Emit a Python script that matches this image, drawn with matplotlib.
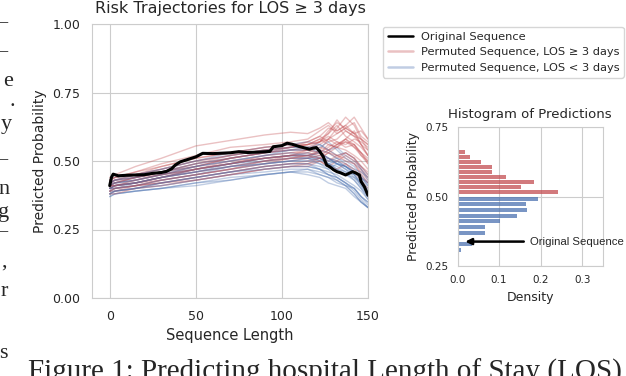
import numpy as np
import matplotlib
matplotlib.use("Agg")
import matplotlib.pyplot as plt
import seaborn as sns

sns.set_style("whitegrid")
plt.rcParams['font.family'] = ['DejaVu Sans']

# ---- data ----
orig_x = [0, 1, 2, 5, 10, 15, 20, 25, 30, 33, 36, 38, 41, 45, 50, 54, 60, 70, 75, 80,
          88, 93, 95, 100, 103, 106, 110, 113, 116, 118, 120, 122, 124, 126, 128, 130,
          132, 134, 137, 139, 141, 143, 145, 146, 148, 150]
orig_y = [0.41, 0.44, 0.452, 0.446, 0.448, 0.449, 0.45, 0.455, 0.458, 0.462, 0.472,
          0.485, 0.497, 0.505, 0.515, 0.528, 0.527, 0.530, 0.534, 0.531, 0.533, 0.535,
          0.552, 0.556, 0.565, 0.561, 0.553, 0.548, 0.543, 0.547, 0.549, 0.535, 0.516,
          0.485, 0.478, 0.468, 0.461, 0.457, 0.449, 0.455, 0.461, 0.456, 0.449, 0.425,
          0.405, 0.375]

perm_x = [0, 3, 15, 30, 50, 70, 90, 105, 115, 122, 127, 132, 137, 142, 146, 150]

perm_long = [
    [0.44, 0.45, 0.48, 0.51, 0.555, 0.575, 0.595, 0.605, 0.60, 0.62, 0.64, 0.61, 0.63, 0.60, 0.58, 0.56],
    [0.43, 0.44, 0.46, 0.49, 0.52, 0.55, 0.56, 0.57, 0.58, 0.61, 0.63, 0.60, 0.62, 0.64, 0.59, 0.57],
    [0.42, 0.43, 0.45, 0.48, 0.51, 0.53, 0.55, 0.56, 0.57, 0.59, 0.57, 0.58, 0.61, 0.59, 0.56, 0.54],
    [0.41, 0.42, 0.44, 0.46, 0.49, 0.52, 0.54, 0.55, 0.56, 0.57, 0.60, 0.63, 0.59, 0.57, 0.55, 0.52],
    [0.42, 0.43, 0.44, 0.46, 0.48, 0.51, 0.53, 0.54, 0.54, 0.56, 0.58, 0.56, 0.57, 0.55, 0.53, 0.50],
    [0.40, 0.41, 0.42, 0.44, 0.47, 0.49, 0.52, 0.53, 0.53, 0.55, 0.54, 0.56, 0.58, 0.61, 0.56, 0.52],
    [0.41, 0.41, 0.42, 0.44, 0.46, 0.48, 0.50, 0.52, 0.53, 0.52, 0.54, 0.52, 0.51, 0.49, 0.46, 0.43],
    [0.40, 0.41, 0.42, 0.43, 0.45, 0.47, 0.49, 0.50, 0.51, 0.54, 0.58, 0.62, 0.66, 0.63, 0.58, 0.54],
    [0.43, 0.44, 0.45, 0.47, 0.50, 0.52, 0.54, 0.55, 0.56, 0.58, 0.56, 0.55, 0.57, 0.56, 0.52, 0.50],
    [0.39, 0.40, 0.41, 0.42, 0.44, 0.46, 0.48, 0.49, 0.49, 0.50, 0.48, 0.50, 0.49, 0.47, 0.44, 0.42],
    [0.42, 0.42, 0.44, 0.45, 0.48, 0.50, 0.52, 0.53, 0.54, 0.57, 0.61, 0.64, 0.62, 0.60, 0.61, 0.58],
    [0.38, 0.39, 0.40, 0.42, 0.43, 0.45, 0.47, 0.48, 0.49, 0.51, 0.50, 0.52, 0.53, 0.51, 0.48, 0.45],
    [0.41, 0.42, 0.43, 0.45, 0.47, 0.50, 0.51, 0.52, 0.52, 0.53, 0.55, 0.57, 0.55, 0.56, 0.53, 0.51],
    [0.40, 0.40, 0.41, 0.43, 0.45, 0.47, 0.49, 0.51, 0.52, 0.54, 0.53, 0.51, 0.53, 0.51, 0.48, 0.46],
    [0.42, 0.43, 0.45, 0.47, 0.50, 0.52, 0.54, 0.55, 0.57, 0.59, 0.62, 0.61, 0.63, 0.66, 0.62, 0.58],
    [0.38, 0.38, 0.40, 0.41, 0.43, 0.45, 0.47, 0.48, 0.48, 0.50, 0.48, 0.47, 0.49, 0.46, 0.43, 0.40],
    [0.41, 0.41, 0.42, 0.44, 0.46, 0.48, 0.50, 0.51, 0.51, 0.52, 0.54, 0.56, 0.58, 0.55, 0.52, 0.49],
    [0.43, 0.44, 0.46, 0.48, 0.51, 0.53, 0.55, 0.56, 0.56, 0.57, 0.59, 0.57, 0.56, 0.58, 0.57, 0.55],
    [0.39, 0.39, 0.41, 0.42, 0.44, 0.46, 0.48, 0.49, 0.50, 0.51, 0.53, 0.52, 0.50, 0.49, 0.45, 0.42],
    [0.41, 0.42, 0.44, 0.46, 0.48, 0.51, 0.53, 0.55, 0.56, 0.58, 0.60, 0.65, 0.61, 0.59, 0.58, 0.56],
    [0.39, 0.40, 0.41, 0.43, 0.45, 0.47, 0.50, 0.51, 0.52, 0.53, 0.51, 0.50, 0.52, 0.50, 0.47, 0.44],
    [0.42, 0.43, 0.44, 0.46, 0.49, 0.51, 0.53, 0.54, 0.55, 0.57, 0.58, 0.60, 0.62, 0.60, 0.56, 0.52],
    [0.40, 0.41, 0.42, 0.44, 0.47, 0.49, 0.51, 0.52, 0.54, 0.53, 0.56, 0.55, 0.58, 0.56, 0.53, 0.49],
    [0.41, 0.41, 0.43, 0.45, 0.47, 0.49, 0.51, 0.52, 0.52, 0.51, 0.53, 0.55, 0.54, 0.52, 0.50, 0.47],
]

perm_short = [
    [0.40, 0.41, 0.43, 0.45, 0.48, 0.51, 0.53, 0.54, 0.54, 0.53, 0.51, 0.49, 0.48, 0.45, 0.41, 0.37],
    [0.38, 0.39, 0.40, 0.41, 0.43, 0.45, 0.47, 0.48, 0.48, 0.47, 0.45, 0.44, 0.42, 0.39, 0.36, 0.33],
    [0.41, 0.42, 0.43, 0.45, 0.47, 0.49, 0.51, 0.52, 0.52, 0.51, 0.50, 0.49, 0.47, 0.45, 0.42, 0.39],
    [0.37, 0.38, 0.39, 0.40, 0.41, 0.43, 0.45, 0.46, 0.46, 0.45, 0.44, 0.42, 0.41, 0.38, 0.35, 0.33],
    [0.43, 0.44, 0.45, 0.47, 0.50, 0.53, 0.55, 0.56, 0.57, 0.56, 0.54, 0.55, 0.52, 0.50, 0.48, 0.45],
    [0.39, 0.40, 0.41, 0.42, 0.44, 0.46, 0.48, 0.49, 0.49, 0.47, 0.45, 0.44, 0.42, 0.40, 0.37, 0.35],
    [0.39, 0.40, 0.42, 0.44, 0.47, 0.49, 0.51, 0.52, 0.51, 0.50, 0.49, 0.48, 0.46, 0.45, 0.42, 0.38],
    [0.42, 0.43, 0.44, 0.46, 0.49, 0.51, 0.53, 0.54, 0.54, 0.55, 0.57, 0.54, 0.51, 0.49, 0.47, 0.44],
    [0.37, 0.38, 0.39, 0.40, 0.42, 0.44, 0.45, 0.46, 0.47, 0.45, 0.44, 0.43, 0.41, 0.38, 0.35, 0.33],
    [0.40, 0.41, 0.42, 0.44, 0.46, 0.49, 0.50, 0.51, 0.51, 0.51, 0.49, 0.50, 0.48, 0.46, 0.44, 0.41],
    [0.42, 0.42, 0.44, 0.46, 0.49, 0.51, 0.53, 0.55, 0.55, 0.56, 0.54, 0.52, 0.53, 0.51, 0.47, 0.43],
    [0.38, 0.39, 0.40, 0.41, 0.43, 0.45, 0.46, 0.47, 0.47, 0.46, 0.45, 0.43, 0.41, 0.40, 0.37, 0.35],
    [0.41, 0.41, 0.42, 0.44, 0.47, 0.49, 0.51, 0.52, 0.53, 0.51, 0.49, 0.47, 0.46, 0.43, 0.40, 0.37],
    [0.40, 0.40, 0.41, 0.43, 0.45, 0.48, 0.49, 0.50, 0.51, 0.52, 0.50, 0.51, 0.49, 0.47, 0.46, 0.44],
    [0.38, 0.38, 0.39, 0.40, 0.42, 0.43, 0.45, 0.46, 0.45, 0.44, 0.42, 0.41, 0.40, 0.37, 0.35, 0.33],
    [0.41, 0.42, 0.43, 0.45, 0.47, 0.49, 0.51, 0.52, 0.52, 0.50, 0.51, 0.49, 0.48, 0.46, 0.43, 0.40],
    [0.40, 0.40, 0.41, 0.43, 0.45, 0.47, 0.49, 0.50, 0.50, 0.51, 0.49, 0.47, 0.45, 0.44, 0.41, 0.38],
    [0.42, 0.43, 0.45, 0.47, 0.50, 0.52, 0.54, 0.55, 0.55, 0.54, 0.53, 0.51, 0.50, 0.48, 0.45, 0.42],
    [0.39, 0.39, 0.40, 0.42, 0.44, 0.46, 0.47, 0.48, 0.48, 0.47, 0.46, 0.45, 0.43, 0.41, 0.39, 0.36],
    [0.40, 0.41, 0.42, 0.44, 0.46, 0.48, 0.50, 0.51, 0.51, 0.49, 0.47, 0.49, 0.47, 0.44, 0.42, 0.39],
    [0.41, 0.42, 0.43, 0.45, 0.48, 0.50, 0.52, 0.53, 0.52, 0.53, 0.51, 0.50, 0.48, 0.46, 0.44, 0.42],
    [0.38, 0.39, 0.40, 0.42, 0.44, 0.46, 0.48, 0.49, 0.49, 0.48, 0.47, 0.44, 0.42, 0.40, 0.37, 0.34],
    [0.40, 0.41, 0.42, 0.44, 0.46, 0.48, 0.49, 0.50, 0.50, 0.49, 0.48, 0.46, 0.45, 0.43, 0.40, 0.36],
    [0.42, 0.43, 0.44, 0.46, 0.48, 0.50, 0.52, 0.54, 0.55, 0.53, 0.51, 0.49, 0.48, 0.46, 0.44, 0.41],
]

# histogram of predictions (bin centres and densities)
hist_long_bins = [0.516, 0.534, 0.552, 0.570, 0.588, 0.606, 0.624, 0.642, 0.660]
hist_long_dens = [0.242, 0.153, 0.184, 0.117, 0.082, 0.082, 0.056, 0.031, 0.0175]
hist_short_bins = [0.287, 0.308, 0.328, 0.349, 0.369, 0.390, 0.411, 0.431, 0.452, 0.472, 0.493]
hist_short_dens = [0.003, 0.008, 0.036, 0.003, 0.065, 0.065, 0.103, 0.144, 0.168, 0.165, 0.194]
orig_pred = 0.338

red = "#C44E52"
blue = "#4C72B0"
W, H = 626, 376

fig = plt.figure(figsize=(6.26, 3.76), dpi=100)

# main panel
ax = fig.add_axes([92 / W, 1 - 298 / H, 276 / W, 274 / H])
for i, (rl, rs) in enumerate(zip(perm_long, perm_short)):
    ax.plot(perm_x, rl, color=red, lw=1.0, alpha=0.35,
            label="Permuted Sequence, LOS \u2265 3 days" if i == 0 else None)
    ax.plot(perm_x, rs, color=blue, lw=1.0, alpha=0.35,
            label="Permuted Sequence, LOS < 3 days" if i == 0 else None)
ax.plot(orig_x, orig_y, color="black", lw=2.2, label="Original Sequence")

ax.set_xlim(-10.3, 150)
ax.set_ylim(0, 1)
ax.set_xticks([0, 50, 100, 150])
ax.set_yticks([0, 0.25, 0.5, 0.75, 1.0])
ax.tick_params(labelsize=9, pad=5)
ax.set_xlabel("Sequence Length", fontsize=10.5)
ax.set_ylabel("Predicted Probability", fontsize=10)
ax.set_title("Risk Trajectories for LOS \u2265 3 days", fontsize=11.5, pad=8)

handles, labels = ax.get_legend_handles_labels()
order = [2, 0, 1]
leg = fig.legend([handles[k] for k in order], [labels[k] for k in order],
                 loc="upper left", bbox_to_anchor=(383 / W, 1 - 27 / H),
                 borderaxespad=0, fontsize=8.2, frameon=True, handlelength=2.2,
                 handletextpad=0.7, borderpad=0.4, labelspacing=0.5)
for h in leg.get_lines():
    h.set_linewidth(1.8)

# inset histogram
ax2 = fig.add_axes([457.5 / W, 1 - 266 / H, 145.5 / W, 138.7 / H])
ax2.barh(hist_long_bins, hist_long_dens, height=0.014, color=red, alpha=0.75, lw=0)
ax2.barh(hist_short_bins, hist_short_dens, height=0.015, color=blue, alpha=0.75, lw=0)
ax2.set_xlim(0, 0.35)
ax2.set_ylim(0.25, 0.75)
ax2.set_xticks([0.0, 0.1, 0.2, 0.3])
ax2.set_yticks([0.25, 0.5, 0.75])
ax2.tick_params(labelsize=7.5, pad=3)
ax2.set_xlabel("Density", fontsize=9)
ax2.set_ylabel("Predicted Probability", fontsize=9)
ax2.set_title("Histogram of Predictions", fontsize=9.5, pad=7)
ax2.annotate("Original Sequence", xy=(0.012, orig_pred), xytext=(0.174, orig_pred),
             fontsize=8.2, family="Liberation Sans", va="center",
             arrowprops=dict(arrowstyle="-|>", color="black", lw=1.8, mutation_scale=9))

# caption and page fragments around the figure
fig.text(28 / W, 1 - 380 / H, "Figure 1: Predicting hospital Length of Stay (LOS)",
         family="Liberation Serif", fontsize=21, va="baseline")
frag_txt = ["\u2013", "\u2013", "e", ".", "y", "\u2013", "n", "g", "\u2013", ",", "r", "s"]
frag_y = [23, 52, 81, 102, 125, 160, 190, 212, 232, 262, 292, 353]
frag_r = [7, 7, 13, 15, 12, 7, 10, 9, 7, 7, 8, 8]
for t, yy, xr in zip(frag_txt, frag_y, frag_r):
    fig.text(xr / W, 1 - yy / H, t, family="Liberation Serif", fontsize=16,
             ha="right", va="center")

fig.savefig("out.png", dpi=100)
